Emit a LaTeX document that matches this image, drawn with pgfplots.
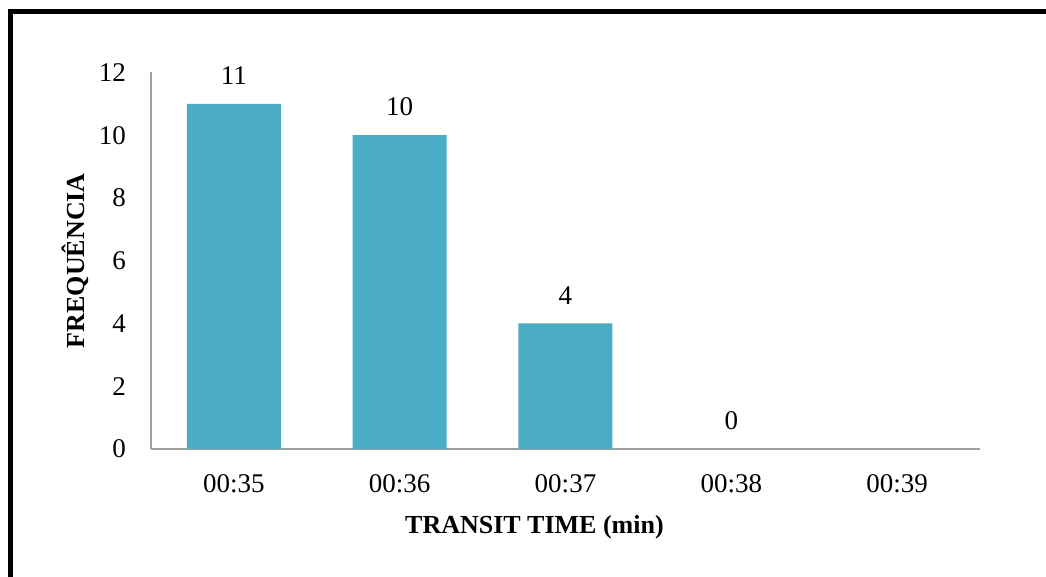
\documentclass[border=0pt]{standalone}
\usepackage{fontspec}
\setmainfont{Liberation Serif}
\usepackage{pgfplots}
\pgfplotsset{compat=1.18}
\definecolor{barblue}{HTML}{4BACC6}
\definecolor{axgray}{HTML}{A0A0A0}
\begin{document}
\begin{tikzpicture}
\useasboundingbox (0,0) rectangle (523pt,-288.5pt);
\draw[line width=2.6pt] (5.35pt,-290pt) -- (5.35pt,-5.75pt) -- (525pt,-5.75pt);
\begin{axis}[
  at={(75.5pt,-224.5pt)}, anchor=south west,
  scale only axis, width=414.5pt, height=188.3pt,
  xmin=-0.5, xmax=4.5, ymin=0, ymax=12,
  /pgf/number format/assume math mode=true,
  ytick={0,2,...,12},
  xtick={0,1,2,3,4},
  xticklabels={00:35,00:36,00:37,00:38,00:39},
  axis x line*=bottom, axis y line*=left,
  axis line style={axgray, line width=0.8pt, -},
  major tick length=0pt,
  tick label style={font=\fontsize{13.5}{15}\selectfont},
  xticklabel style={yshift=-9pt},
  yticklabel style={xshift=-9pt},
  xlabel={\textbf{TRANSIT TIME (min)}},
  ylabel={\textbf{FREQUÊNCIA}},
  label style={font=\fontsize{13}{15}\selectfont},
  xlabel style={at={(axis description cs:0.4626,-0.207)}, anchor=center},
  ylabel style={at={(axis description cs:-0.0917,0.5)}, anchor=center, rotate=0},
  ybar, bar width=47pt,
  nodes near coords,
  every node near coord/.append style={font=\fontsize{13.5}{15}\selectfont, black, yshift=6pt},
]
\addplot[fill=barblue, draw=none] coordinates {(0,11) (1,10) (2,4) (3,0)};
\end{axis}
\end{tikzpicture}
\end{document}
